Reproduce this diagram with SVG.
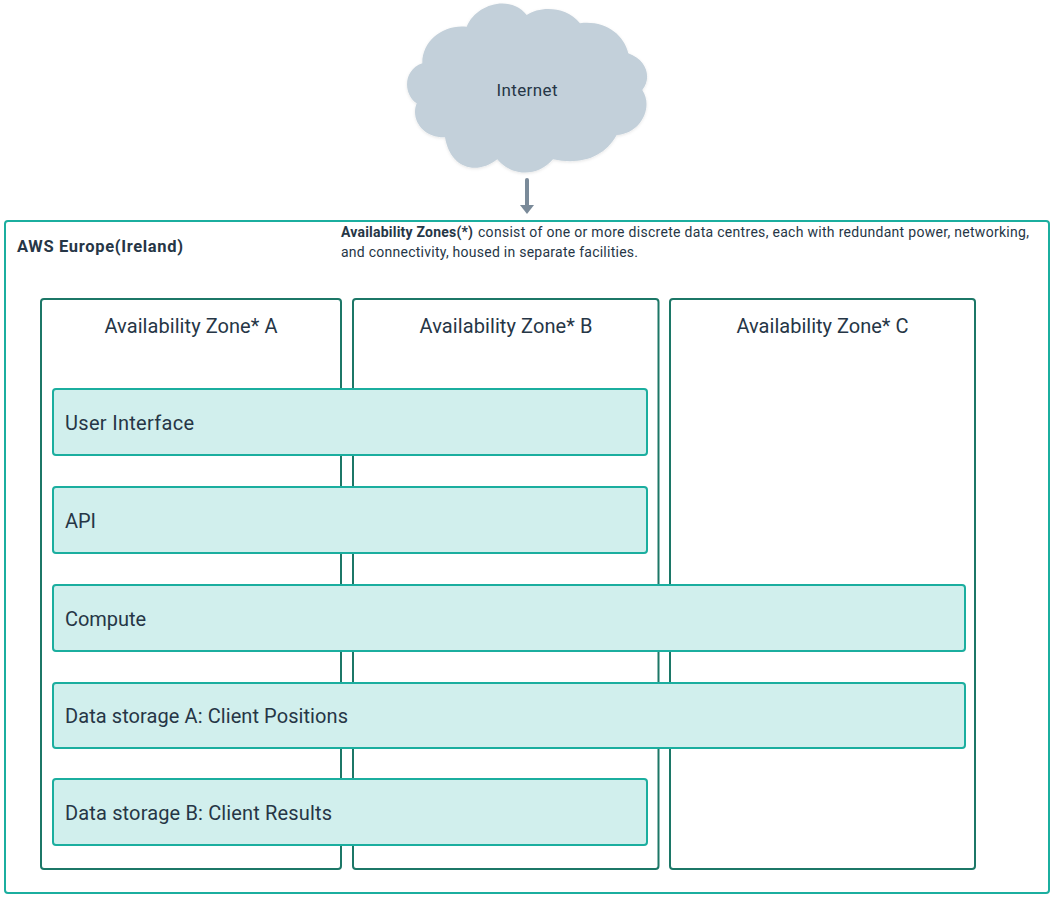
<svg xmlns="http://www.w3.org/2000/svg" width="1061" height="903" viewBox="0 0 1061 903">
<style>
text{font-family:"Roboto","Liberation Sans",sans-serif;fill:#263646}
.zone{fill:#fff;stroke:#1c7767;stroke-width:2}
.bar{fill:#d1efed;stroke:#1bae9f;stroke-width:2}
.lab{font-size:20px}
.small{font-size:14px}
</style>
<defs>
<marker id="arrow" markerUnits="userSpaceOnUse" markerWidth="9" markerHeight="14" refX="0" refY="7" orient="auto" viewBox="0 0 9 14" preserveAspectRatio="none"><path d="M0 0L9 7L0 14Z" fill="#7a8a99"/></marker>
<filter id="soft" x="-5%" y="-5%" width="110%" height="115%"><feDropShadow dx="0" dy="1" stdDeviation="1.5" flood-color="#000" flood-opacity="0.1"/></filter>
</defs>
<rect width="1061" height="903" fill="#fff"/>
<g id="internet">
<path filter="url(#soft)" fill="#c3d0da" d="M466.7 26.7C476 4 510 -6 526.7 15C540 6 566 6 580 23.3C604 20 624 34 628.3 53.3C647 60 652 78 642.300 90C654 108 640 134 616.7 135C604 158 580 165 553 159.3C538 177 512 177 497.3 159.3C476 176 450 168 445 137.3C424 138 410 120 416.7 103.3C403 94 403 70 422.3 63.3C422 40 444 24 466.7 26.7Z"/>
<text x="527" y="96" text-anchor="middle" font-size="17" textLength="61">Internet</text>
</g>
<g id="aws-region">
<rect x="5" y="221" width="1044" height="672" rx="3" fill="#fff" stroke="#1bae9f" stroke-width="2"/>
<text x="17" y="252" font-size="16.5" font-weight="700" textLength="166">AWS Europe(Ireland)</text>
</g>
<g id="note">
<text class="small" x="341" y="237" font-weight="700" textLength="132">Availability Zones(*)</text>
<text class="small" x="478" y="237" textLength="551">consist of one or more discrete data centres, each with redundant power, networking,</text>
<text class="small" x="341" y="257" textLength="297">and connectivity, housed in separate facilities.</text>
</g>
<g id="zone-a"><rect class="zone" x="41" y="299" width="300" height="570" rx="3"/><text class="lab" x="191" y="333" text-anchor="middle" textLength="173">Availability Zone* A</text></g>
<g id="zone-b"><rect class="zone" x="353" y="299" width="305.500" height="570" rx="3"/><text class="lab" x="506" y="333" text-anchor="middle" textLength="173">Availability Zone* B</text></g>
<g id="zone-c"><rect class="zone" x="670" y="299" width="305" height="570" rx="3"/><text class="lab" x="822.500" y="333" text-anchor="middle" textLength="172">Availability Zone* C</text></g>
<g id="user-interface"><rect class="bar" x="53" y="389" width="594" height="66" rx="3"/><text class="lab" x="65" y="430" textLength="129">User Interface</text></g>
<g id="api"><rect class="bar" x="53" y="487" width="594" height="66" rx="3"/><text class="lab" x="65" y="528" textLength="31">API</text></g>
<g id="compute"><rect class="bar" x="53" y="585" width="912" height="66" rx="3"/><text class="lab" x="65" y="626" textLength="81">Compute</text></g>
<g id="data-storage-a"><rect class="bar" x="53" y="683" width="912" height="65" rx="3"/><text class="lab" x="65" y="723" textLength="283">Data storage A: Client Positions</text></g>
<g id="data-storage-b"><rect class="bar" x="53" y="779" width="594" height="66" rx="3"/><text class="lab" x="65" y="820" textLength="267">Data storage B: Client Results</text></g>
<g id="connectors">
<line x1="527" y1="180" x2="527" y2="205" stroke="#7a8a99" stroke-width="4" stroke-linecap="round" marker-end="url(#arrow)"/>
</g>
</svg>
